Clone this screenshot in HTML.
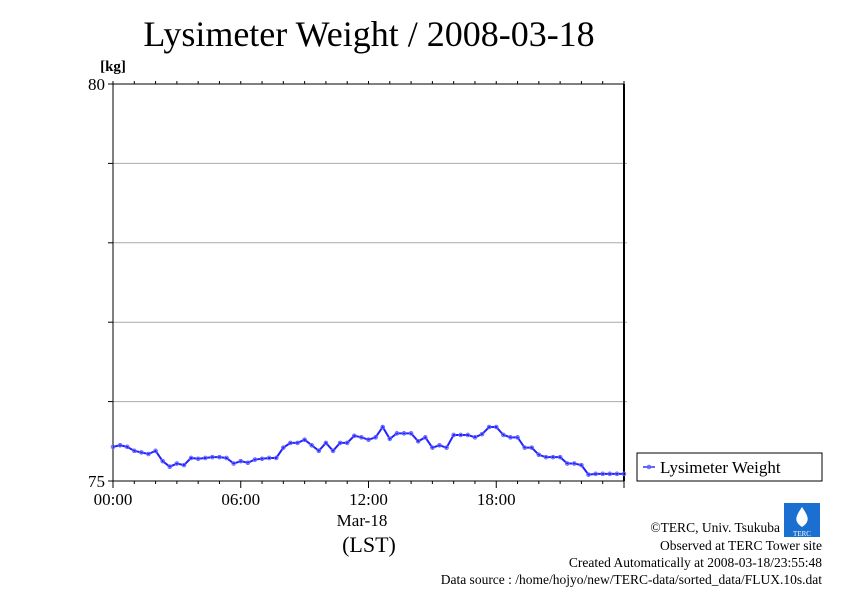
<!DOCTYPE html>
<html><head><meta charset="utf-8"><style>
body{margin:0;background:#fff;}
svg{display:block;font-family:"Liberation Serif",serif;}
</style></head><body>
<svg id="c" width="842" height="595" viewBox="0 0 842 595">
<text x="369" y="46" font-size="36" text-anchor="middle">Lysimeter Weight / 2008-03-18</text>
<text x="113" y="71" font-size="15" text-anchor="middle" font-weight="bold">[kg]</text>
<g id="grid"></g>
<rect x="113" y="84" width="511" height="397" fill="none" stroke="#000" stroke-width="1"/>
<line x1="624" y1="84" x2="624" y2="481" stroke="#000" stroke-width="2"/>
<g id="ticks"></g>
<g id="series"></g>
<text x="362" y="526" font-size="17" text-anchor="middle">Mar-18</text>
<text x="369" y="552" font-size="22" text-anchor="middle">(LST)</text>
<rect x="637" y="453" width="185" height="28" fill="#fff" stroke="#000"/>
<line x1="643" y1="467" x2="655" y2="467" stroke="#3333ff" stroke-width="1.5"/>
<circle cx="649" cy="467" r="1.8" fill="none" stroke="#6666ff"/>
<text x="660" y="473" font-size="17">Lysimeter Weight</text>
<rect x="784" y="503" width="36" height="34" fill="#1a6fd0"/>
<path d="M802 507 C796 516 793 521 802 527 C811 521 808 516 802 507Z" fill="#fff"/>
<text x="802" y="536" font-size="7" fill="#fff" text-anchor="middle">TERC</text>
<g font-size="13.5" text-anchor="end">
<text x="780" y="532">©TERC, Univ. Tsukuba</text>
<text x="822" y="550">Observed at TERC Tower site</text>
<text x="822" y="567">Created Automatically at 2008-03-18/23:55:48</text>
<text x="822" y="584">Data source : /home/hojyo/new/TERC-data/sorted_data/FLUX.10s.dat</text>
</g>
</svg>
<script>
const yTicks=[75,76,77,78,79,80];
const yTickLabels=["75","","","","","80"];
const xTickHours=[0,6,12,18];
const xTickLabels=["00:00","06:00","12:00","18:00"];
// values every 20 min (kg)
const weights=[75.43,75.45,75.43,75.38,75.36,75.34,75.38,75.25,75.18,75.22,75.2,75.29,75.28,75.29,75.3,75.3,75.29,75.22,75.25,75.23,75.27,75.28,75.29,75.29,75.42,75.48,75.48,75.52,75.45,75.38,75.48,75.38,75.48,75.48,75.57,75.55,75.52,75.55,75.68,75.53,75.6,75.6,75.6,75.5,75.55,75.42,75.45,75.42,75.58,75.58,75.58,75.55,75.59,75.68,75.68,75.58,75.55,75.55,75.42,75.42,75.33,75.3,75.3,75.3,75.22,75.22,75.2,75.08,75.09,75.09,75.09,75.09,75.09];
const X0=113,X1=624,Y0=481,Y1=84;
const xs=h=>X0+(X1-X0)*h/24;
const ys=v=>Y0-(Y0-Y1)*(v-75)/5;
const NS="http://www.w3.org/2000/svg";
function mk(t,a,p){const e=document.createElementNS(NS,t);for(const k in a)e.setAttribute(k,a[k]);p.appendChild(e);return e;}
const grid=document.getElementById('grid'),ticks=document.getElementById('ticks'),ser=document.getElementById('series');
yTicks.forEach((v,i)=>{
 const y=ys(v);
 if(v>75&&v<80){const g=mk('line',{x1:X0,x2:X1+3,y1:y,y2:y,stroke:'#aaa'},grid);
 
 }
 const t=mk('line',{x1:X0-5,x2:X0,y1:y,y2:y,stroke:'#000'},ticks);
 
 
 if(yTickLabels[i]){const l=mk('text',{x:X0-8,y:y+6,'font-size':17,'text-anchor':'end'},ticks);l.textContent=yTickLabels[i];
 
 }
});
for(let h=0;h<=24;h++){
 const x=xs(h),major=h%6==0;
 const t=mk('line',{x1:x,x2:x,y1:Y0,y2:Y0+(major?7:3),stroke:'#000'},ticks);
 
 
 const t2=mk('line',{x1:x,x2:x,y1:Y1,y2:Y1-3,stroke:'#000'},ticks);
 
 
}
xTickHours.forEach((h,i)=>{const l=mk('text',{x:xs(h),y:505,'font-size':17,'text-anchor':'middle'},ticks);l.textContent=xTickLabels[i];
 
 });
const step=24/(weights.length-1);
const pts=weights.map((v,i)=>xs(i*step)+','+ys(v)).join(' ');
const pl=mk('polyline',{points:pts,fill:'none',stroke:'#2222ff','stroke-width':2},ser);


weights.forEach((v,i)=>{const c=mk('circle',{cx:xs(i*step),cy:ys(v),r:1.8,fill:'none',stroke:'#6666ff'},ser);
 
 });
</script>
</body></html>
